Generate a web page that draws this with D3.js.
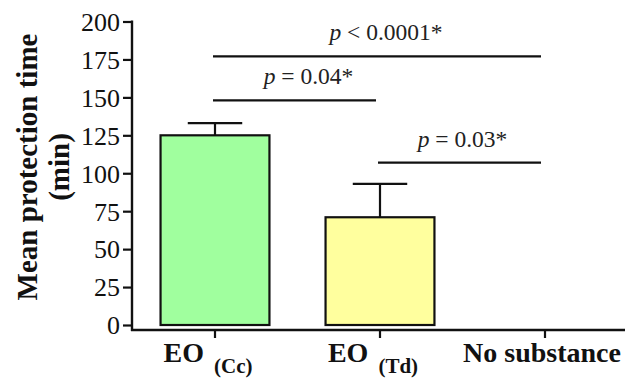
<!DOCTYPE html>
<html>
<head>
<meta charset="utf-8">
<script src="https://cdn.jsdelivr.net/npm/d3@7"></script>
<style>
  html, body { margin: 0; padding: 0; background: #fff; }
  svg { display: block; }
  svg text { font-family: "Liberation Serif", "Times New Roman", "DejaVu Serif", serif; }
</style>
</head>
<body>
<svg id="chart" width="625" height="378"></svg>
<script>
// ---- data ----
const categories = ["EO_Cc", "EO_Td", "No substance"];
const labelMain = ["EO", "EO", "No substance"];
const labelSub = ["(Cc)", "(Td)", ""];
const means = [125, 71, 0];
const errors = [8, 22, 0];
const fills = ["#a0ff9e", "#ffff9e", "#ffffff"];
const yTicks = [0, 25, 50, 75, 100, 125, 150, 175, 200];
const sigFrom = [0, 0, 1];
const sigTo = [2, 1, 2];
const sigLevel = [177, 148, 107];
const sigOp = ["<", "=", "="];
const sigValue = ["0.0001*", "0.04*", "0.03*"];

const svg = d3.select("#chart");
const axisX = 132, axisY = 330;

const x = d3.scaleBand().domain(categories).range([132.5, 627.5])
  .paddingInner(0.34).paddingOuter(0.17);
const y = d3.scaleLinear().domain([0, 200]).range([325, 21.5]);

const ink = "#111";

// bars
svg.append("g").selectAll("rect").data(categories.filter((c, i) => means[i] > 0))
  .join("rect")
  .attr("x", c => x(c))
  .attr("y", c => y(means[categories.indexOf(c)]))
  .attr("width", x.bandwidth())
  .attr("height", c => y(0) - y(means[categories.indexOf(c)]))
  .attr("fill", c => fills[categories.indexOf(c)])
  .attr("stroke", ink).attr("stroke-width", 2.2);

// error bars
const eb = svg.append("g").attr("stroke", ink).attr("stroke-width", 2.2);
categories.forEach((c, i) => {
  if (errors[i] <= 0) return;
  const cx = x(c) + x.bandwidth() / 2;
  eb.append("line").attr("x1", cx).attr("x2", cx)
    .attr("y1", y(means[i])).attr("y2", y(means[i] + errors[i]));
  const half = x.bandwidth() / 4;
  eb.append("line").attr("x1", cx - half).attr("x2", cx + half)
    .attr("y1", y(means[i] + errors[i])).attr("y2", y(means[i] + errors[i]));
});

// y axis
const yAxis = d3.axisLeft(y).tickValues(yTicks).tickSize(9).tickPadding(3);
const gy = svg.append("g").attr("transform", `translate(${axisX},0)`).call(yAxis);
gy.attr("font-family", null).attr("font-size", null);
gy.select(".domain").remove();
gy.selectAll(".tick line").attr("stroke", ink).attr("stroke-width", 2.2);
gy.selectAll(".tick text")
  .style("font-family", '"Liberation Serif", "Times New Roman", serif')
  .style("font-size", "26px")
  .attr("fill", ink).attr("dy", "0.34em");
svg.append("line").attr("x1", axisX).attr("x2", axisX)
  .attr("y1", y(200) - 1).attr("y2", axisY + 1)
  .attr("stroke", ink).attr("stroke-width", 2.4);

// x axis
svg.append("line").attr("x1", axisX - 1).attr("x2", 625)
  .attr("y1", axisY).attr("y2", axisY).attr("stroke", ink).attr("stroke-width", 2.4);
const xt = svg.append("g");
categories.forEach((c, i) => {
  const cx = x(c) + x.bandwidth() / 2;
  xt.append("line").attr("x1", cx).attr("x2", cx).attr("y1", axisY).attr("y2", axisY + 8)
    .attr("stroke", ink).attr("stroke-width", 2.2);
  const t = xt.append("text").attr("x", labelSub[i] ? cx - 7 : cx - 3).attr("y", 362)
    .attr("text-anchor", "middle").attr("font-weight", "bold").style("font-size", "28px").attr("fill", ink);
  t.append("tspan").text(labelMain[i]);
  if (labelSub[i]) {
    t.append("tspan").text(labelSub[i]).style("font-size", "21px").attr("dx", 10).attr("dy", 11);
  }
});

// y label
const yl = svg.append("text").attr("transform", "translate(37,167) rotate(-90)")
  .attr("text-anchor", "middle").attr("font-weight", "bold").style("font-size", "29px").attr("fill", ink);
yl.append("tspan").attr("x", 0).attr("y", 0).text("Mean protection time");
yl.append("tspan").attr("x", 0).attr("y", 32).text("(min)");

// significance lines
const sg = svg.append("g");
sigLevel.forEach((lv, i) => {
  const x1 = x(categories[sigFrom[i]]) + x.bandwidth() / 2;
  const x2 = x(categories[sigTo[i]]) + x.bandwidth() / 2;
  sg.append("line").attr("x1", x1 - 2).attr("x2", x2 - 4)
    .attr("y1", y(lv)).attr("y2", y(lv)).attr("stroke", ink).attr("stroke-width", 2.2);
  const t = sg.append("text").attr("x", (x1 + x2) / 2 + (i === 1 ? 11 : (i === 0 ? 6 : 0)))
    .attr("y", y(lv) - 16).attr("text-anchor", "middle").style("font-size", "23.5px").attr("fill", "#222");
  t.append("tspan").attr("font-style", "italic").text("p");
  t.append("tspan").text(" " + sigOp[i] + " " + sigValue[i]);
});
</script>
</body>
</html>
